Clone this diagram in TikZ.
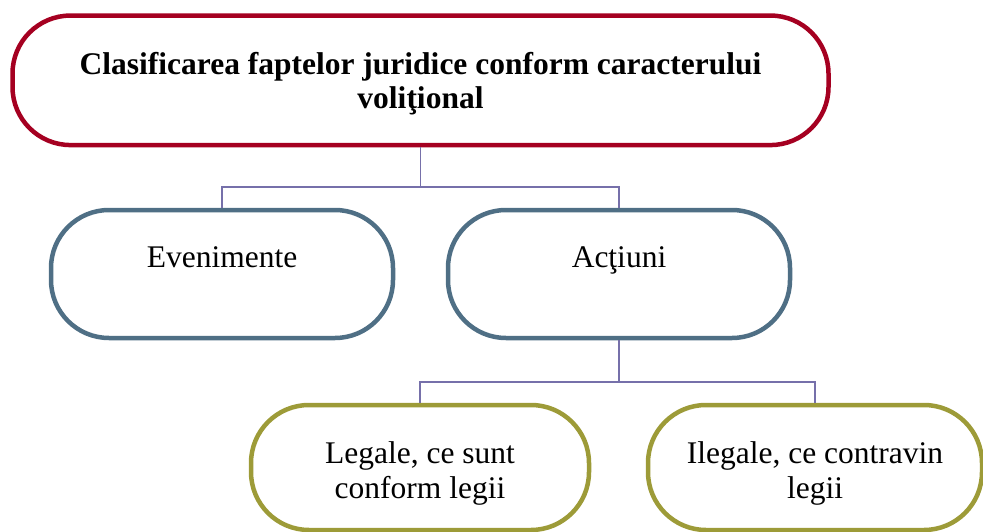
\documentclass[tikz,border=0pt]{standalone}
\usepackage{fontspec}
\setmainfont{Liberation Serif}
\definecolor{rootred}{RGB}{165,0,33}
\definecolor{midblue}{RGB}{79,111,133}
\definecolor{leafolive}{RGB}{157,155,56}
\definecolor{linkviolet}{RGB}{118,112,170}
\begin{document}
\begin{tikzpicture}[x=1pt,y=-1pt,
  box/.style={draw, line width=4.5pt, fill=white, rounded corners=58pt,
    align=center, inner sep=0pt,
    font=\fontsize{31.5}{35}\selectfont},
  rootbox/.style={box, draw=rootred, minimum width=816pt, minimum height=129.5pt,
    text height=56pt, text depth=0pt, font=\fontsize{31.5}{34}\selectfont\bfseries},
  midbox/.style={box, draw=midblue, minimum width=342pt, minimum height=128pt,
    text height=21pt, text depth=35pt},
  leafbox/.style={box, draw=leafolive, minimum height=125pt,
    text height=61pt, text depth=0pt},
  link/.style={draw=linkviolet, line width=1.5pt}
]
\useasboundingbox (0,0) rectangle (983,532);

% boxes
\node[rootbox] (root) at (420.5,80.3)
  {Clasificarea faptelor juridice conform caracterului\\voliţional};
\node[midbox] (ev) at (222,274) {Evenimente};
\node[midbox] (ac) at (619,274) {Acţiuni};
\node[leafbox, minimum width=338pt] (leg) at (420,467.5)
  {Legale, ce sunt\\conform legii};
\node[leafbox, minimum width=334pt] (ileg) at (815,467.5)
  {Ilegale, ce contravin\\legii};

% tree connectors
\coordinate (j1) at (420.5,187);
\coordinate (j2) at (619,382);
\path[link] (root.south) -- (j1);
\path[link] (ev.north) |- (j1) -| (ac.north);
\path[link] (ac.south) -- (j2);
\path[link] (leg.north) |- (j2) -| (ileg.north);
\end{tikzpicture}
\end{document}
